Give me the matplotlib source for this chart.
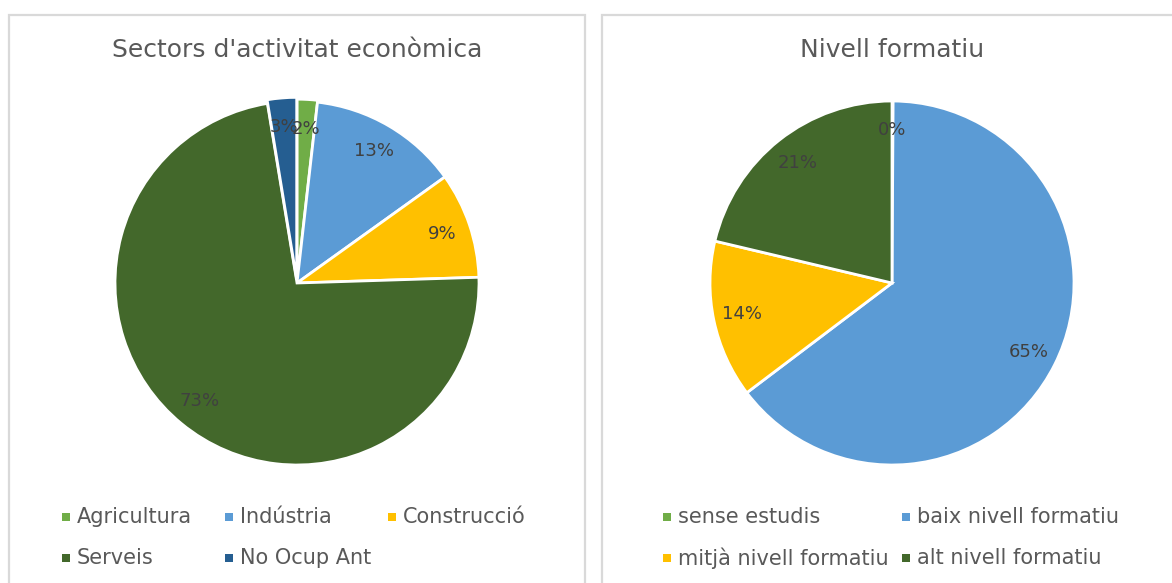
import matplotlib
matplotlib.use("Agg")
import matplotlib.pyplot as plt
from matplotlib.patches import Rectangle

# sectors d'activitat (%)
sectors = ["Agricultura", "Indústria", "Construcció", "Serveis", "No Ocup Ant"]
sectors_val = [1.8, 13.3, 9.4, 72.9, 2.6]
sectors_col = ["#70AD47", "#5B9BD5", "#FFC000", "#43682B", "#255E91"]

# nivell formatiu (%)
nivells = ["sense estudis", "baix nivell formatiu", "mitjà nivell formatiu", "alt nivell formatiu"]
nivells_val = [0.1, 64.6, 14.0, 21.3]
nivells_col = ["#70AD47", "#5B9BD5", "#FFC000", "#43682B"]

plt.rcParams["font.family"] = ["DejaVu Sans"]
GRIS = "#595959"
W, H = 1172, 583

fig = plt.figure(figsize=(W / 100, H / 100), dpi=100)

# marcs dels dos panells
for x0, x1 in [(9, 585), (602, 1180)]:
    fig.patches.append(Rectangle((x0 / W, -0.05), (x1 - x0) / W, (H - 15.5) / H + 0.05,
                                 transform=fig.transFigure, fill=False,
                                 edgecolor="#D9D9D9", linewidth=1.6))


def pastis(cx, titol, vals, cols, explode=None):
    r = 182
    ax = fig.add_axes([(cx - r) / W, (H - 283 - r) / H, 2 * r / W, 2 * r / H])
    ax.pie(vals, colors=cols, startangle=90, counterclock=False, explode=explode,
           autopct="%1.0f%%", pctdistance=0.84,
           wedgeprops=dict(edgecolor="white", linewidth=2),
           textprops=dict(color="#404040", fontsize=13))
    ax.set_xlim(-1, 1)
    ax.set_ylim(-1, 1)
    ax.set_aspect("equal")
    fig.text(cx / W, (H - 50) / H, titol, ha="center", va="center",
             color=GRIS, fontsize=18)
    return ax


pastis(297, "Sectors d'activitat econòmica", sectors_val, sectors_col,
       explode=[0.01, 0, 0, 0, 0.02])
pastis(892, "Nivell formatiu", nivells_val, nivells_col)


# llegendes: columnes d'amplada fixa
def llegenda(noms, cols, x0, dx, ncol):
    for i, (n, c) in enumerate(zip(noms, cols)):
        fila, col = divmod(i, ncol)
        x = x0 + col * dx
        y = 517 + fila * 41
        fig.patches.append(Rectangle(((x - 4) / W, (H - y - 4) / H), 8 / W, 8 / H,
                                     transform=fig.transFigure, facecolor=c,
                                     edgecolor="none"))
        fig.text((x + 11) / W, (H - y) / H, n, ha="left", va="center",
                 color=GRIS, fontsize=15)


llegenda(sectors, sectors_col, 66, 163, 3)
llegenda(nivells, nivells_col, 667, 239, 2)

fig.savefig("out.png", dpi=100)
